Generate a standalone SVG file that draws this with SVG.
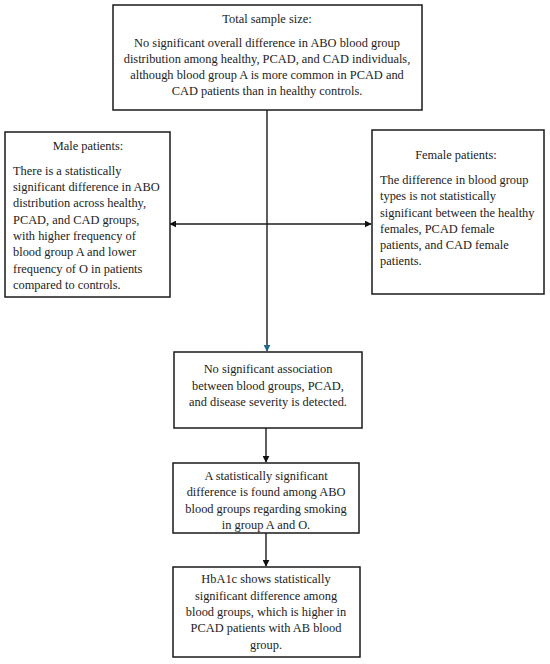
<svg xmlns="http://www.w3.org/2000/svg" width="550" height="664" viewBox="0 0 550 664">
<defs>
<style>
.box{fill:#fff;stroke:#1a1a1a;stroke-width:1.5}
.t{font-family:"Liberation Serif","Times New Roman",serif;font-size:12.4px;fill:#222}
.c{text-anchor:middle}
.ln{stroke:#1a1a1a;stroke-width:1.4;fill:none}
</style>
<marker id="ah" viewBox="0 0 10 10" refX="9" refY="5" markerWidth="7" markerHeight="7" markerUnits="userSpaceOnUse" orient="auto"><path d="M0,0L10,5L0,10z" fill="#111"/></marker>
<marker id="ahb" viewBox="0 0 10 10" refX="9" refY="5" markerWidth="7" markerHeight="7" markerUnits="userSpaceOnUse" orient="auto"><path d="M0,0L10,5L0,10z" fill="#1d6a8a"/></marker>
</defs>
<rect width="550" height="664" fill="#fff"/>
<g id="connectors">
<line class="ln" x1="267" y1="110" x2="267" y2="351" marker-end="url(#ahb)"/>
<line class="ln" x1="267" y1="224" x2="170" y2="224" marker-end="url(#ah)"/>
<line class="ln" x1="267" y1="224" x2="371" y2="224" marker-end="url(#ah)"/>
<line class="ln" x1="266" y1="428" x2="266" y2="462" marker-end="url(#ah)"/>
<line class="ln" x1="266" y1="533" x2="266" y2="566" marker-end="url(#ah)"/>
</g>
<g id="total">
<rect class="box" x="113" y="5" width="309" height="105"/>
<text class="t c" x="267" y="23">Total sample size:</text>
<text class="t c" x="267" y="47">No significant overall difference in ABO blood group</text>
<text class="t c" x="267" y="63">distribution among healthy, PCAD, and CAD individuals,</text>
<text class="t c" x="267" y="79">although blood group A is more common in PCAD and</text>
<text class="t c" x="267" y="95">CAD patients than in healthy controls.</text>
</g>
<g id="male">
<rect class="box" x="5" y="132" width="165" height="165"/>
<text class="t c" x="88" y="150">Male patients:</text>
<text class="t" x="13" y="175">There is a statistically</text>
<text class="t" x="13" y="191">significant difference in ABO</text>
<text class="t" x="13" y="207">distribution across healthy,</text>
<text class="t" x="13" y="224">PCAD, and CAD groups,</text>
<text class="t" x="13" y="240">with higher frequency of</text>
<text class="t" x="13" y="256">blood group A and lower</text>
<text class="t" x="13" y="273">frequency of O in patients</text>
<text class="t" x="13" y="289">compared to controls.</text>
</g>
<g id="female">
<rect class="box" x="372" y="130" width="172" height="164"/>
<text class="t c" x="456" y="159">Female patients:</text>
<text class="t" x="380" y="184">The difference in blood group</text>
<text class="t" x="380" y="200">types is not statistically</text>
<text class="t" x="380" y="217">significant between the healthy</text>
<text class="t" x="380" y="233">females, PCAD female</text>
<text class="t" x="380" y="249">patients, and CAD female</text>
<text class="t" x="380" y="265">patients.</text>
</g>
<g id="association">
<rect class="box" x="174" y="352" width="188" height="76"/>
<text class="t c" x="268" y="373">No significant association</text>
<text class="t c" x="268" y="390">between blood groups, PCAD,</text>
<text class="t c" x="268" y="406">and disease severity is detected.</text>
</g>
<g id="smoking">
<rect class="box" x="173" y="463" width="186" height="70"/>
<text class="t c" x="266" y="480">A statistically significant</text>
<text class="t c" x="266" y="496">difference is found among ABO</text>
<text class="t c" x="266" y="513">blood groups regarding smoking</text>
<text class="t c" x="266" y="529">in group A and O.</text>
</g>
<g id="hba1c">
<rect class="box" x="173" y="567" width="187" height="90"/>
<text class="t c" x="266" y="583">HbA1c shows statistically</text>
<text class="t c" x="266" y="600">significant difference among</text>
<text class="t c" x="266" y="616">blood groups, which is higher in</text>
<text class="t c" x="266" y="632">PCAD patients with AB blood</text>
<text class="t c" x="266" y="649">group.</text>
</g>
</svg>
